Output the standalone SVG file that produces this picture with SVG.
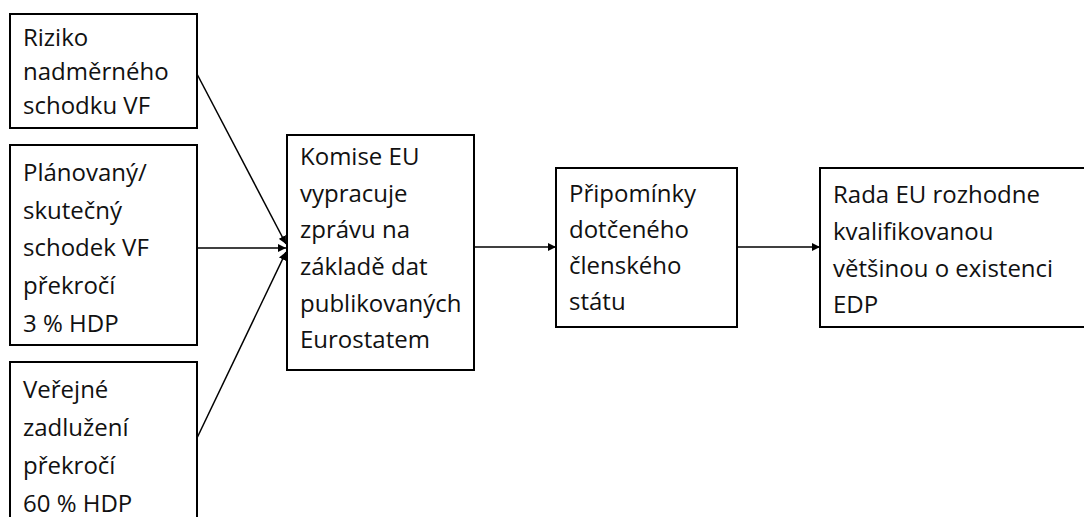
<svg xmlns="http://www.w3.org/2000/svg" width="1084" height="517" viewBox="0 0 1084 517">
<style>
.box{fill:#fff;stroke:#000;stroke-width:2}
.t{font-family:"Open Sans","Liberation Sans",sans-serif;font-size:24px;fill:#111}
.c{stroke:#000;stroke-width:1.5;fill:none;marker-end:url(#ah)}
</style>
<defs>
<marker id="ah" viewBox="0 0 10 10" refX="10" refY="5" markerWidth="8" markerHeight="8" orient="auto" markerUnits="userSpaceOnUse">
<path d="M0,0 L10,5 L0,10 Z" fill="#000"/>
</marker>
</defs>
<rect width="1084" height="517" fill="#fff"/>
<g id="connectors">
<line class="c" x1="197" y1="74" x2="286" y2="244"/>
<line class="c" x1="197" y1="248" x2="286" y2="248"/>
<line class="c" x1="197" y1="438" x2="286" y2="252"/>
<line class="c" x1="474" y1="247" x2="556" y2="247"/>
<line class="c" x1="737" y1="247" x2="820" y2="247"/>
</g>
<g id="n1">
<rect class="box" x="10" y="14" width="187" height="114"/>
<text class="t" x="23" y="46">Riziko</text>
<text class="t" x="23" y="80">nadměrného</text>
<text class="t" x="23" y="114">schodku VF</text>
</g>
<g id="n2">
<rect class="box" x="10" y="145" width="187" height="200"/>
<text class="t" x="23" y="181">Plánovaný/</text>
<text class="t" x="23" y="219">skutečný</text>
<text class="t" x="23" y="256">schodek VF</text>
<text class="t" x="23" y="294">překročí</text>
<text class="t" x="23" y="332">3 % HDP</text>
</g>
<g id="n3">
<rect class="box" x="10" y="362" width="187" height="170"/>
<text class="t" x="23" y="398">Veřejné</text>
<text class="t" x="23" y="436">zadlužení</text>
<text class="t" x="23" y="474">překročí</text>
<text class="t" x="23" y="512">60 % HDP</text>
</g>
<g id="n4">
<rect class="box" x="287" y="135" width="187" height="235"/>
<text class="t" x="300" y="165">Komise EU</text>
<text class="t" x="300" y="202">vypracuje</text>
<text class="t" x="300" y="238">zprávu na</text>
<text class="t" x="300" y="275">základě dat</text>
<text class="t" x="300" y="312">publikovaných</text>
<text class="t" x="300" y="348">Eurostatem</text>
</g>
<g id="n5">
<rect class="box" x="556" y="168" width="181" height="159"/>
<text class="t" x="569" y="202">Připomínky</text>
<text class="t" x="569" y="238">dotčeného</text>
<text class="t" x="569" y="274">členského</text>
<text class="t" x="569" y="310">státu</text>
</g>
<g id="n6">
<rect class="box" x="820" y="168" width="270" height="159"/>
<text class="t" x="833" y="203">Rada EU rozhodne</text>
<text class="t" x="833" y="240">kvalifikovanou</text>
<text class="t" x="833" y="277">většinou o existenci</text>
<text class="t" x="833" y="313">EDP</text>
</g>
</svg>
